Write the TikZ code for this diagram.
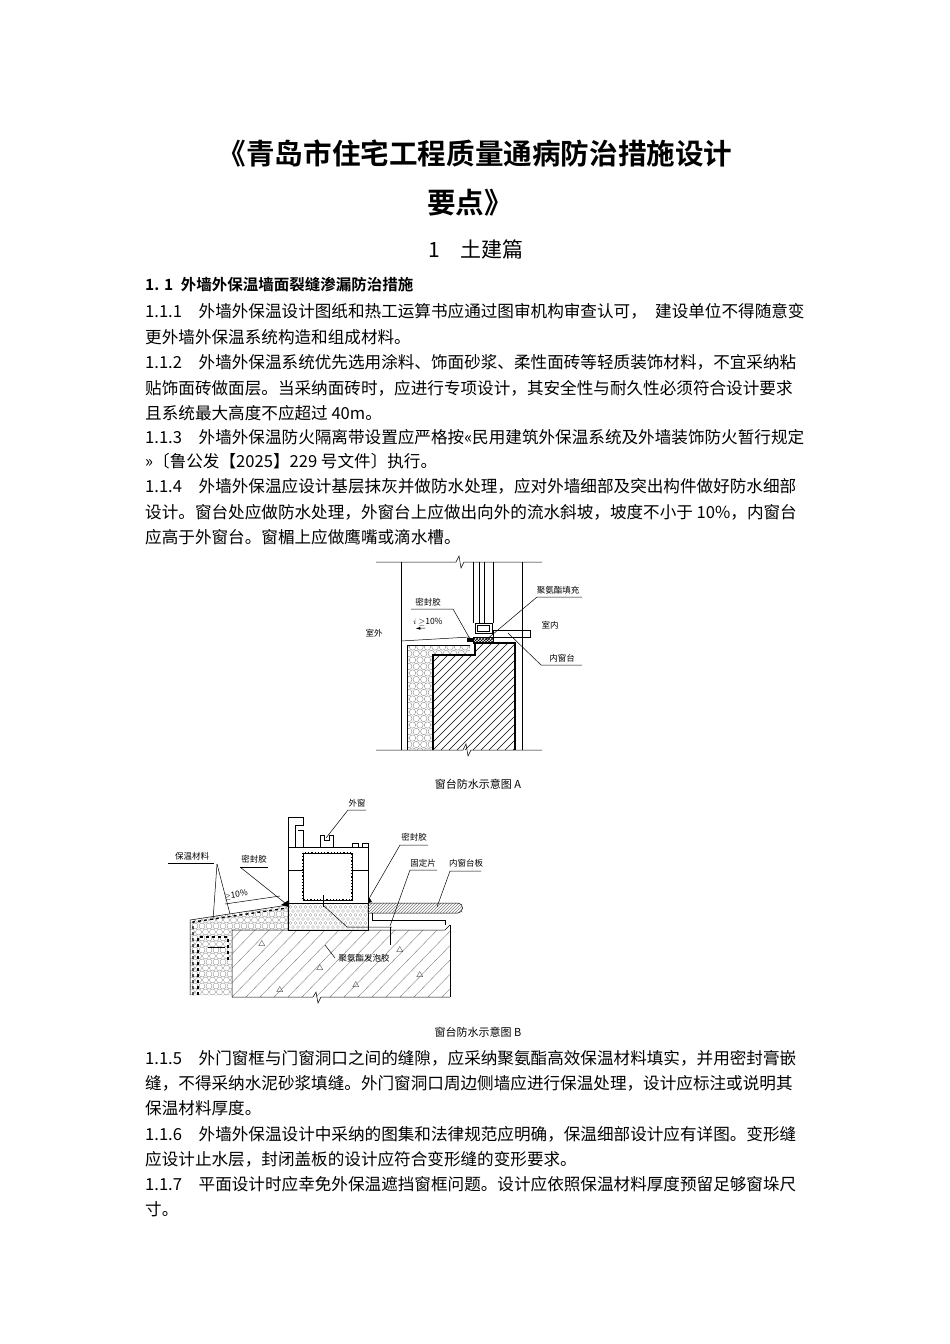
\documentclass[tikz,border=0pt]{standalone}
\usepackage{fontspec}
\setmainfont{Noto Sans CJK SC}[BoldFont={* Bold}]
\usetikzlibrary{patterns}
\begin{document}
\begin{tikzpicture}[x=1pt,y=-1pt,
  body/.style={anchor=west,inner sep=0pt,font=\fontsize{16.6}{16.6}\selectfont},
  lbl/.style={inner sep=0pt,font=\fontsize{8.5}{8.5}\selectfont},
  capt/.style={inner sep=0pt,font=\fontsize{11}{11}\selectfont},
  thin/.style={line width=0.5pt},
  thick/.style={line width=1.6pt}]
\useasboundingbox[fill=white] (0,0) rectangle (950,1344);
% titles
\node[inner sep=0pt,font=\fontsize{28.6}{28.6}\selectfont\bfseries] (t1) at (475,153) {《青岛市住宅工程质量通病防治措施设计};
\node[inner sep=0pt,font=\fontsize{28.6}{28.6}\selectfont\bfseries] (t2) at (470,203) {要点》};
\node[inner sep=0pt,font=\fontsize{21}{21}\selectfont] (t3) at (476,249) {1\quad 土建篇};
% body text
\node[body,font=\fontsize{15.5}{15.5}\selectfont\bfseries] (h1) at (145,285) {1. 1\enspace 外墙外保温墙面裂缝渗漏防治措施};
\node[body] (l1) at (145,311) {1.1.1\quad 外墙外保温设计图纸和热工运算书应通过图审机构审查认可，\enspace 建设单位不得随意变};
\node[body] (l2) at (145,337) {更外墙外保温系统构造和组成材料。};
\node[body] (l3) at (145,362) {1.1.2\quad 外墙外保温系统优先选用涂料、饰面砂浆、柔性面砖等轻质装饰材料，不宜采纳粘};
\node[body] (l4) at (145,388) {贴饰面砖做面层。当采纳面砖时，应进行专项设计，其安全性与耐久性必须符合设计要求};
\node[body] (l5) at (145,413) {且系统最大高度不应超过 40m。};
\node[body] (l6) at (145,437) {1.1.3\quad 外墙外保温防火隔离带设置应严格按«民用建筑外保温系统及外墙装饰防火暂行规定};
\node[body] (l7) at (145,461) {»〔鲁公发【2025】229 号文件〕执行。};
\node[body] (l8) at (145,486) {1.1.4\quad 外墙外保温应设计基层抹灰并做防水处理，应对外墙细部及突出构件做好防水细部};
\node[body] (l9) at (145,512) {设计。窗台处应做防水处理，外窗台上应做出向外的流水斜坡，坡度不小于 10\%，内窗台};
\node[body] (l10) at (145,537) {应高于外窗台。窗楣上应做鹰嘴或滴水槽。};
\node[body] (m1) at (145,1058) {1.1.5\quad 外门窗框与门窗洞口之间的缝隙，应采纳聚氨酯高效保温材料填实，并用密封膏嵌};
\node[body] (m2) at (145,1083) {缝，不得采纳水泥砂浆填缝。外门窗洞口周边侧墙应进行保温处理，设计应标注或说明其};
\node[body] (m3) at (145,1108) {保温材料厚度。};
\node[body] (m4) at (145,1134) {1.1.6\quad 外墙外保温设计中采纳的图集和法律规范应明确，保温细部设计应有详图。变形缝};
\node[body] (m5) at (145,1159) {应设计止水层，封闭盖板的设计应符合变形缝的变形要求。};
\node[body] (m6) at (145,1184) {1.1.7\quad 平面设计时应幸免外保温遮挡窗框问题。设计应依照保温材料厚度预留足够窗垛尺};
\node[body] (m7) at (145,1209) {寸。};
\node[capt] (ca) at (478,784) {窗台防水示意图 A};
\node[capt] (cb) at (478,1032) {窗台防水示意图 B};

% ================= Figure A
\draw[thin] (376,562) -- (456,562) -- (459,556) -- (461,568) -- (464,562) -- (542,562);
\draw[thin] (376,750) -- (463,750) -- (466,744) -- (468,756) -- (471,750) -- (542,750);
\draw[thin] (401,562) -- (401,750);
\draw[thin] (522,562) -- (522,750);
\foreach \x in {473,479,484,493} \draw[thin] (\x,562) -- (\x,623);
\draw[thin] (475,623) rectangle (492,633);
\draw[thin] (477,625) rectangle (489,631);
\draw[thin,pattern=crosshatch] (473,637) rectangle (493,643);
\fill (467,638) rectangle (473,642);
\draw[thin] (493,630) rectangle (530,637);
\draw[thin] (401,641) -- (470,637);
% insulation
\begin{scope}
\clip (407,750) -- (407,645) -- (470,645) -- (470,655) -- (433,655) -- (433,750) -- cycle;
\foreach \i in {0,...,28} \foreach \j in {0,...,9}
  \draw[line width=0.35pt,gray] ({405+\j*7.5+mod(\i,2)*3.75},{647+\i*6.5}) circle (3.2);
\end{scope}
\draw[thin] (407,750) -- (407,645) -- (470,645);
\begin{scope}
\clip (433,750) -- (433,655) -- (475,655) -- (475,643) -- (515,643) -- (515,750) -- cycle;
\foreach \k in {-10,...,30} \draw[line width=0.4pt] (433+\k*8-120,750) -- (433+\k*8,630);
\end{scope}
\draw[thick] (433,750) -- (433,655) -- (475,655) -- (475,643) -- (515,643) -- (515,750);
% labels A
\node[lbl] (sw) at (374,633) {室外};
\node[lbl] (sn) at (550,625) {室内};
\node[lbl] (mfj) at (428,602) {密封胶};
\node[lbl] (slA) at (428,622) {$i\geq$10\%};
\draw[thin,-latex] (425,628) -- (416,628.5);
\node[lbl] (jaz) at (558,590) {聚氨酯填充};
\node[lbl] (nct) at (562,658) {内窗台};
\coordinate (a1) at (411,609); \coordinate (a2) at (453,609);
\draw[thin] (a1) -- (a2) -- (470,639);
\coordinate (b1) at (537,597); \coordinate (b2) at (582,597);
\draw[thin] (b2) -- (b1) -- (486,640);
\coordinate (c1) at (541,665); \coordinate (c2) at (582,665);
\draw[thin] (c2) -- (c1) -- (508,633);

% ================= Figure B
\begin{scope}
\clip (232,930) rectangle (450,997);
\foreach \k in {-5,...,30} \draw[line width=0.4pt,gray] (232+\k*14-70,997) -- (232+\k*14,925);
\end{scope}
\draw[thin] (232,997) -- (232,930) -- (445,930) -- (450,925);
\draw[thin] (450,925) -- (450,997);
\draw[thin] (232,997) -- (313,997) -- (316,992) -- (318,1003) -- (321,997) -- (450,997);
\foreach \p in {(262,944),(320,968),(356,985),(400,950),(420,975),(280,990)} \node[lbl] at \p {$\triangle$};
\begin{scope}
\clip (190,995) -- (190,920) -- (288,905) -- (288,930) -- (232,930) -- (232,995) -- cycle;
\foreach \i in {0,...,17} \foreach \j in {0,...,15}
  \draw[line width=0.3pt,gray] ({188+\j*7+mod(\i,2)*3.5},{902+\i*6}) circle (3);
\end{scope}
\draw[thin] (190,995) -- (190,920) -- (288,905) -- (288,930);
\draw[line width=1.4pt,dashed] (193,995) -- (193,922) -- (287,908);
\draw[line width=1.4pt,dashed] (198,995) -- (198,937) -- (228,937) -- (228,960);
\begin{scope}
\clip (288,903) rectangle (368,930);
\foreach \i in {0,...,6} \foreach \j in {0,...,16}
  \draw[line width=0.3pt,gray] ({288+\j*5+mod(\i,2)*2.5},{903+\i*4}) circle (1.5);
\end{scope}
\draw[thin] (288,903) rectangle (368,930);
\draw[thin] (288,903) -- (288,817) -- (303,817) -- (303,825) -- (295,825) -- (295,847);
\draw[thin] (303,847) -- (303,830) -- (298,830);
\draw[thin] (288,847) rectangle (368,903);
\draw[line width=1.2pt,dotted] (303,853) rectangle (352,900);
\draw[thin] (303,853) rectangle (352,900);
\draw[thin] (320,847) -- (320,835) -- (324,835) -- (324,840) -- (329,840) -- (329,835) -- (333,835) -- (333,847);
\draw[thin] (352,847) -- (352,843) -- (358,843) -- (358,847);
\draw[thin] (362,847) -- (362,843) -- (368,843) -- (368,847);
\draw[thin] (288,870) -- (303,870);
\draw[thin] (352,870) -- (368,870);
\draw[line width=1pt] (323,895) -- (323,907);
\draw[thin,pattern=north east lines,pattern color=gray] (368,903) -- (458,903) .. controls (464,903) and (464,913) .. (458,913) -- (368,913) -- cycle;
\draw[thin] (372,913) -- (372,920) -- (445,920) -- (445,925);
\draw[thin] (323,905) -- (347,927) -- (392,927);
\draw[thin] (390,927) -- (390,945);
\draw[thin] (208,947) -- (225,947);
\fill (281,905) -- (289,900) -- (289,907) -- cycle;
\fill (368,895) -- (372,902) -- (368,903) -- cycle;
\node[lbl,rotate=8] (slB) at (236,895) {$\geq$10\%};
\draw[thin] (225,904) -- (280,896);
\node[lbl] (wc) at (357,803) {外窗};
\draw[thin] (366,810) -- (348,810) -- (326,838);
\node[lbl] (bw) at (192,856) {保温材料};
\coordinate (d1) at (168,863); \coordinate (d2) at (214,863);
\draw[thin] (d1) -- (d2);
\draw[thin] (217,864) -- (213,920);
\draw[thin] (217,864) -- (230,914);
\node[lbl] (mf1) at (254,859) {密封胶};
\draw[thin] (268,867) -- (240,867);
\draw[thin] (240,867) -- (285,903);
\node[lbl] (mf2) at (414,837) {密封胶};
\draw[thin] (428,845) -- (400,845) -- (370,897);
\node[lbl] (gdp) at (423,863) {固定片};
\draw[thin] (437,870) -- (410,870) -- (390,926);
\node[lbl] (nctb) at (466,863) {内窗台板};
\draw[thin] (481,871) -- (450,871) -- (437,907);
\node[lbl] (jfp) at (364,958) {聚氨酯发泡胶};
\draw[thin] (335,958) -- (325,945);
\end{tikzpicture}
\end{document}
